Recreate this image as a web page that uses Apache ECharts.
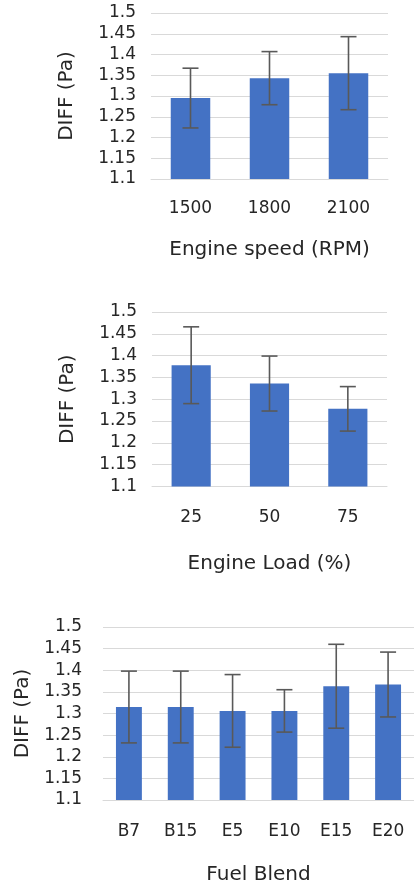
<!DOCTYPE html>
<html>
<head>
<meta charset="utf-8">
<script src="https://cdn.jsdelivr.net/npm/echarts@6/dist/echarts.min.js"></script>
<style>
html,body{margin:0;padding:0;background:#fff;}
#c{width:414px;height:886px;}
</style>
</head>
<body>
<div id="c"></div>
<script>
// ---- data ----
var speedCats = ['1500', '1800', '2100'];
var speedVals = [1.295, 1.343, 1.355];
var speedErr  = [0.072, 0.064, 0.088];

var loadCats = ['25', '50', '75'];
var loadVals = [1.378, 1.336, 1.278];
var loadErr  = [0.088, 0.063, 0.051];

var blendCats = ['B7', 'B15', 'E5', 'E10', 'E15', 'E20'];
var blendVals = [1.315, 1.315, 1.306, 1.306, 1.363, 1.367];
var blendErr  = [0.083, 0.083, 0.084, 0.049, 0.097, 0.075];

var yMin = 1.1, yMax = 1.5, yStep = 0.05;
var yTitle = 'DIFF (Pa)';
var xTitles = ['Engine speed (RPM)', 'Engine Load (%)', 'Fuel Blend'];

// ---- chart ----
var FONT = 'DejaVu Sans';
var TXT = '#262626';
var BAR = '#4472C4';
var ERR = '#595959';
var GRIDC = '#d9d9d9';

var chart = echarts.init(document.getElementById('c'), null, {renderer: 'canvas'});

var grids = [
  {left: 151, right: 26, top: 13, height: 166},
  {left: 152, right: 27, top: 312, height: 174.5},
  {left: 103, right: -10, top: 627, height: 173.5}
];
var cats = [speedCats, loadCats, blendCats];
var vals = [speedVals, loadVals, blendVals];
var errs = [speedErr, loadErr, blendErr];
var yLabelMargin = [15, 15, 21];
var yNameGap = [74, 74, 65];
var xLabelMargin = [21, 23, 23];
var xNameGap = [61, 67, 65];

var xAxes = [], yAxes = [], series = [];
for (var i = 0; i < 3; i++) {
  xAxes.push({
    type: 'category', gridIndex: i, data: cats[i],
    axisTick: {show: false},
    axisLine: {show: true, lineStyle: {color: GRIDC, width: 1}},
    axisLabel: {color: TXT, fontFamily: FONT, fontSize: 17, margin: xLabelMargin[i]},
    name: xTitles[i], nameLocation: 'middle', nameGap: xNameGap[i],
    nameTextStyle: {color: TXT, fontFamily: FONT, fontSize: 20}
  });
  yAxes.push({
    type: 'value', gridIndex: i, min: yMin, max: yMax, interval: yStep,
    axisLine: {show: false}, axisTick: {show: false},
    splitLine: {lineStyle: {color: GRIDC, width: 1}},
    axisLabel: {color: TXT, fontFamily: FONT, fontSize: 17, margin: yLabelMargin[i],
      formatter: function (v) { return String(parseFloat(v.toFixed(2))); }},
    name: yTitle, nameLocation: 'middle', nameGap: yNameGap[i], nameRotate: 90,
    nameTextStyle: {color: TXT, fontFamily: FONT, fontSize: 20}
  });
  series.push({
    type: 'bar', xAxisIndex: i, yAxisIndex: i, data: vals[i],
    barWidth: '50%', itemStyle: {color: BAR}, silent: true
  });
  (function (idx) {
    var errData = vals[idx].map(function (v, k) {
      return [k, v - errs[idx][k], v + errs[idx][k]];
    });
    series.push({
      type: 'custom', xAxisIndex: idx, yAxisIndex: idx, data: errData, z: 10, silent: true,
      encode: {x: 0, y: [1, 2]},
      renderItem: function (params, api) {
        var x = api.value(0);
        var lo = api.coord([x, api.value(1)]);
        var hi = api.coord([x, api.value(2)]);
        var hw = 8;
        var st = {stroke: ERR, lineWidth: 1.6};
        return {
          type: 'group',
          children: [
            {type: 'line', shape: {x1: hi[0], y1: hi[1], x2: lo[0], y2: lo[1]}, style: st},
            {type: 'line', shape: {x1: hi[0] - hw, y1: hi[1], x2: hi[0] + hw, y2: hi[1]}, style: st},
            {type: 'line', shape: {x1: lo[0] - hw, y1: lo[1], x2: lo[0] + hw, y2: lo[1]}, style: st}
          ]
        };
      }
    });
  })(i);
}

chart.setOption({
  animation: false,
  backgroundColor: '#fff',
  grid: grids,
  xAxis: xAxes,
  yAxis: yAxes,
  series: series
});
</script>
</body>
</html>
